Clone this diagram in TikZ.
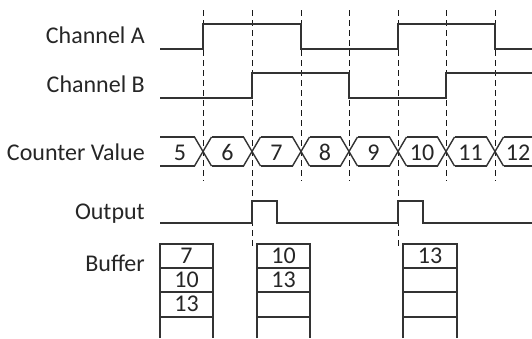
\documentclass[tikz,border=0pt]{standalone}
\usepackage{fontspec}
\setmainfont{Carlito}
\begin{document}
\begin{tikzpicture}[x=1pt,y=-1pt,
  sig/.style={line width=1.4pt, draw=black!80},
  grid/.style={line width=1pt, draw=black!90, dash pattern=on 6pt off 4pt},
  lbl/.style={anchor=base east, inner sep=0pt, text=black!85, font=\fontsize{24}{28}\selectfont},
  num/.style={anchor=base, inner sep=0pt, text=black!85, font=\fontsize{24}{28}\selectfont},
  buf/.style={line width=1.2pt, draw=black!80}]
\useasboundingbox (0,0) rectangle (532,338);
% labels
\node[lbl] (la) at (145,43) {Channel A};
\node[lbl] (lb) at (145,92) {Channel B};
\node[lbl] (lc) at (145,160) {Counter Value};
\node[lbl] (lo) at (145,219) {Output};
\node[lbl] (lbuf) at (145,271) {Buffer};
% dashed lines
\foreach \x in {203,301,349,446,495} \draw[grid] (\x,10) -- (\x,181);
\foreach \x in {252,398} \draw[grid] (\x,10) -- (\x,248);
% Channel A
\draw[sig] (160,49) -- (203,49) -- (203,24) -- (301,24) -- (301,49) -- (398,49) -- (398,24) -- (495,24) -- (495,49) -- (532,49);
% Channel B
\draw[sig] (160,98) -- (252,98) -- (252,73) -- (349,73) -- (349,98) -- (446,98) -- (446,73) -- (532,73);
% Counter bus
\def\h{8.5}
\draw[sig] (160,137) -- (203-\h,137);
\draw[sig] (160,166) -- (203-\h,166);
\foreach \a/\b in {203/252,252/301,301/349,349/398,398/446,446/495}{
  \draw[sig] (\a+\h,137) -- (\b-\h,137);
  \draw[sig] (\a+\h,166) -- (\b-\h,166);
}
\draw[sig] (495+\h,137) -- (532,137);
\draw[sig] (495+\h,166) -- (532,166);
\foreach \a in {203,252,301,349,398,446,495}{
  \draw[sig] (\a-\h,137) -- (\a+\h,166);
  \draw[sig] (\a-\h,166) -- (\a+\h,137);
}
\node[num] (c5) at (180,160) {5};
\node[num] (c6) at (227.5,160) {6};
\node[num] (c7) at (276.5,160) {7};
\node[num] (c8) at (325,160) {8};
\node[num] (c9) at (373.5,160) {9};
\node[num] (c10) at (422,160) {10};
\node[num] (c11) at (470.5,160) {11};
\node[num] (c12) at (518,160) {12};
% Output
\draw[sig] (160,223) -- (252,223) -- (252,201) -- (277,201) -- (277,223) -- (398,223) -- (398,201) -- (423,201) -- (423,223) -- (532,223);
% Buffers
\foreach \l/\r in {160/213,257/310,403/457}{
  \draw[buf] (\l,338) -- (\l,244) -- (\r,244) -- (\r,338);
  \foreach \y in {268,292,317} \draw[buf] (\l,\y) -- (\r,\y);
}
\node[num] (b1a) at (186.5,263) {7};
\node[num] (b1b) at (186.5,287) {10};
\node[num] (b1c) at (186.5,311) {13};
\node[num] (b2a) at (283.5,263) {10};
\node[num] (b2b) at (283.5,287) {13};
\node[num] (b3a) at (430,263) {13};
\end{tikzpicture}
\end{document}
